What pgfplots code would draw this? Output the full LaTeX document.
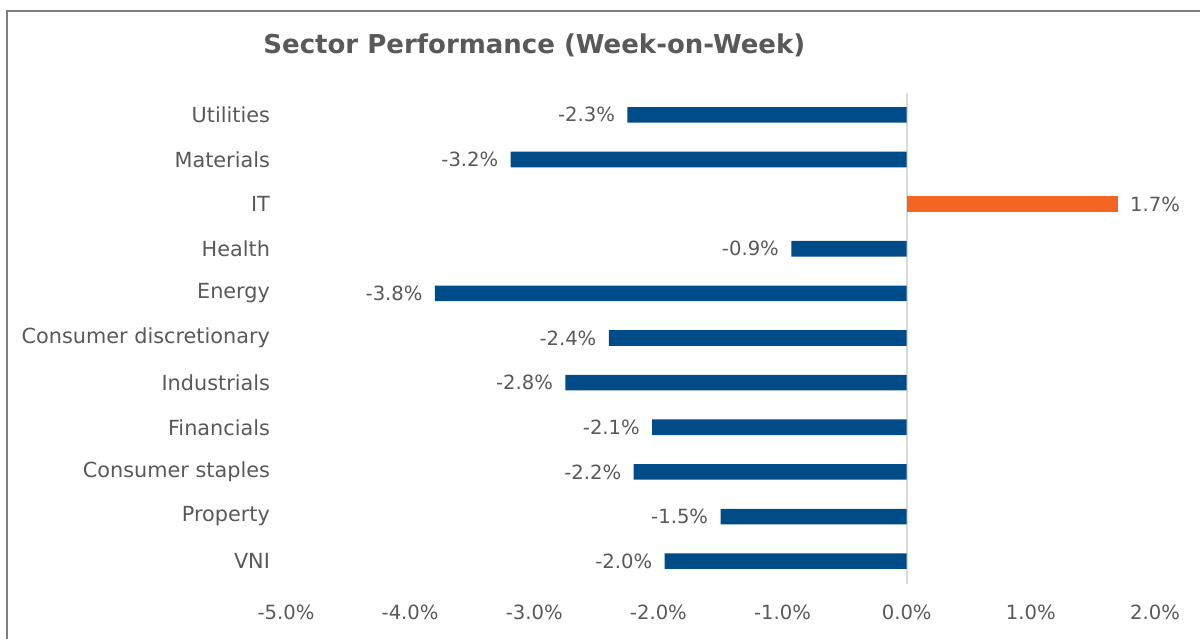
\documentclass[border=0pt]{standalone}
\usepackage{fontspec}
\setmainfont{DejaVu Sans}
\usepackage{pgfplots}
\pgfplotsset{compat=1.18}
\definecolor{barblue}{HTML}{004C88}
\definecolor{barorange}{HTML}{F26522}
\definecolor{txtgray}{HTML}{595959}
\definecolor{zerogray}{HTML}{D9D9D9}
\definecolor{framegray}{HTML}{7F7F7F}

\begin{document}
\begin{tikzpicture}
\useasboundingbox (0pt,0pt) rectangle (600pt,-319pt);
\draw[framegray, line width=1pt] (3.5pt,-330pt) -- (3.5pt,-5.5pt) -- (610pt,-5.5pt);
\node[anchor=west, inner sep=0, text=txtgray,
      font=\bfseries\fontsize{13}{15}\selectfont] at (131.5pt,-22.5pt)
      {Sector Performance (Week-on-Week)};
\begin{axis}[at={(143pt,-291.75pt)}, anchor=south west,
  scale only axis, width=434.5pt, height=245.5pt,
  xbar, bar width=7.8pt, bar shift=0pt,
  xmin=-5, xmax=2, ymin=-0.5, ymax=10.5,
  xtick={-5,-4,-3,-2,-1,0,1,2},
  ytick={0,1,2,3,4,5,6,7,8,9,10},
  yticklabels={VNI,Property,Consumer staples,Financials,Industrials,
    Consumer discretionary,Energy,Health,IT,Materials,Utilities},
  axis line style={draw=none}, major tick length=0pt,
  /pgf/number format/assume math mode=true,
  xticklabel={\pgfmathprintnumber[fixed,fixed zerofill,precision=1]{\tick}\%},
  xticklabel style={font=\fontsize{9.8}{12}\selectfont, text=txtgray, yshift=-7pt},
  yticklabel style={font=\fontsize{10.4}{12}\selectfont, text=txtgray, xshift=-4.5pt},
  point meta=explicit,
  nodes near coords={\pgfmathprintnumber[fixed,fixed zerofill,precision=1]{\pgfplotspointmeta}\%},
  nodes near coords align={horizontal},
  nodes near coords style={font=\fontsize{9.8}{12}\selectfont, text=txtgray, inner xsep=6pt},
  clip=false]
\draw[zerogray, line width=1pt] (axis cs:0,-0.5) -- (axis cs:0,10.5);
\addplot[fill=barblue, draw=none] coordinates {
  (-1.95,0) [-2.0] (-1.50,1) [-1.5] (-2.20,2) [-2.2] (-2.05,3) [-2.1]
  (-2.75,4) [-2.8] (-2.40,5) [-2.4] (-3.80,6) [-3.8] (-0.93,7) [-0.9]
  (-3.19,9) [-3.2] (-2.25,10) [-2.3]};
\addplot[fill=barorange, draw=none] coordinates {(1.70,8) [1.7]};
\end{axis}
\end{tikzpicture}
\end{document}
